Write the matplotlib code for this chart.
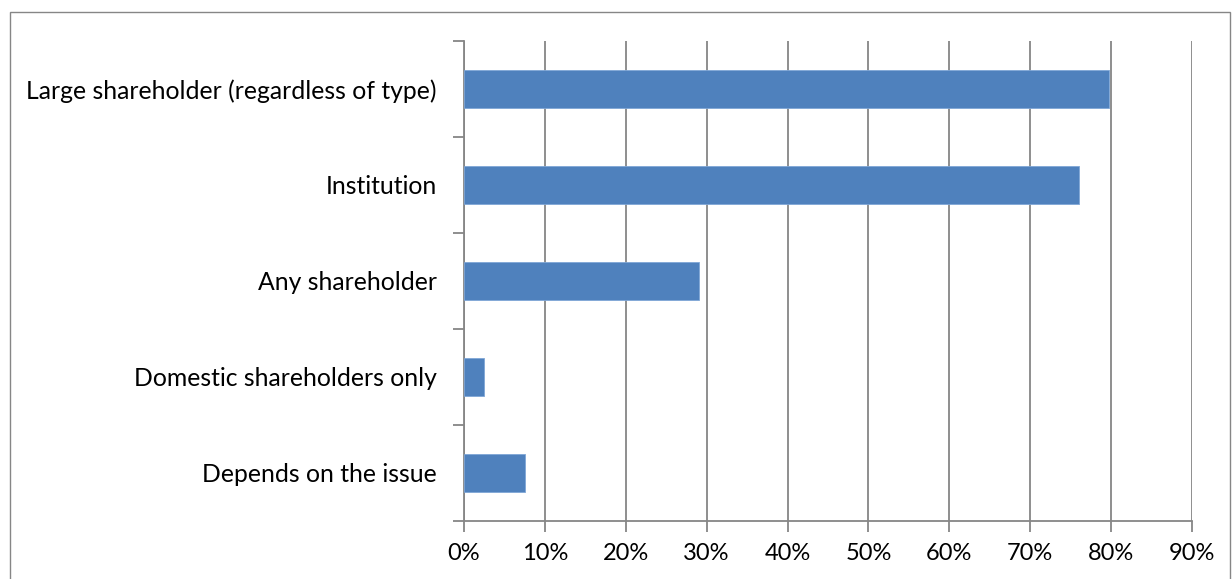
import matplotlib.pyplot as plt
from matplotlib.patches import Rectangle
from matplotlib.ticker import FuncFormatter, FixedLocator

# Categories listed top to bottom
categories = ["Large shareholder (regardless of type)", "Institution",
              "Any shareholder", "Domestic shareholders only", "Depends on the issue"]
shares = [79.8, 76.0, 29.1, 2.5, 7.6]

plt.rcParams['font.family'] = ['Lato', 'DejaVu Sans']

fig = plt.figure(figsize=(12.32, 5.79), dpi=100)
ax = fig.add_axes([464 / 1232, 1 - 521 / 579, (1192 - 464) / 1232, (521 - 41) / 579])

# outer chart border
fig.patches.append(Rectangle((10 / 1232, -0.05), (1230 - 10) / 1232, 1.05 - 12 / 579,
                             transform=fig.transFigure, fill=False,
                             edgecolor="#868686", linewidth=1.0))

ypos = list(range(len(categories)))[::-1]
ax.barh(ypos, shares, height=0.4, color="#4F81BD", edgecolor="#7FA6D6",
        linewidth=0.6, zorder=3)

ax.set_xlim(0, 90)
ax.set_ylim(-0.5, len(categories) - 0.5)
ax.set_xticks(range(0, 91, 10))
ax.xaxis.set_major_formatter(FuncFormatter(lambda v, p: f"{int(v)}%"))
ax.xaxis.grid(True, color="#868686", linewidth=1.3, zorder=0)

ax.set_yticks(ypos)
ax.set_yticklabels(categories)
ax.yaxis.set_minor_locator(FixedLocator([y + 0.5 for y in range(-1, len(categories))]))
ax.tick_params(axis='y', which='major', length=0, pad=19.5, labelsize=17.8)
ax.tick_params(axis='y', which='minor', length=8, width=1.3, color="#868686")
ax.tick_params(axis='x', length=8, width=1.3, color="#868686", labelsize=17, pad=8)

for side in ["top", "right"]:
    ax.spines[side].set_visible(False)
for side in ["left", "bottom"]:
    ax.spines[side].set_color("#868686")
    ax.spines[side].set_linewidth(1.3)

fig.savefig("out.png", dpi=100)
